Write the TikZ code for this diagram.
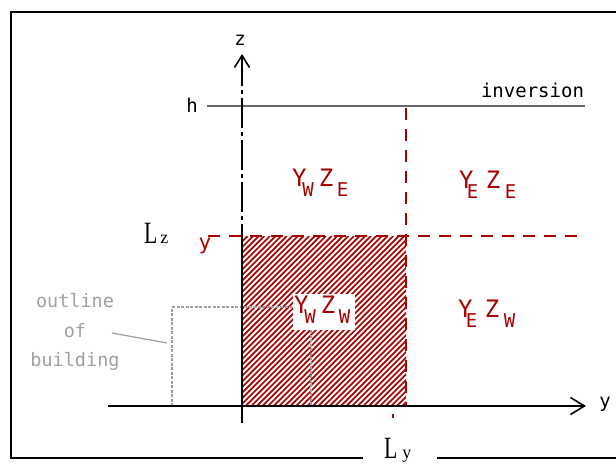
\documentclass[tikz,border=0pt]{standalone}
\usepackage{fontspec}
\setmainfont{Liberation Serif}
\newfontfamily\monof{DejaVu Sans Mono}
\usetikzlibrary{arrows.meta}
\definecolor{dred}{RGB}{168,0,0}
\definecolor{lgrey}{RGB}{160,160,160}
\definecolor{mgrey}{RGB}{105,105,105}
\newcommand\YZlab[5]{{\fontsize{24}{24}\selectfont Y}\kern#3\raisebox{-10pt}{\fontsize{19}{19}\selectfont #1}\kern#4{\fontsize{24}{24}\selectfont Z}\kern#5\raisebox{-10pt}{\fontsize{19}{19}\selectfont #2}}
\newcommand\bigL{\scalebox{0.7}[1]{\fontsize{31}{31}\selectfont L}}
\tikzset{
  frameline/.style={black, line width=1.6pt},
  axisline/.style={black, line width=1.6pt},
  reddash/.style={dred, line width=1.8pt, dash pattern=on 12pt off 9pt},
  hatchline/.style={dred, line width=1.7pt},
  bldg/.style={lgrey, line width=1.4pt, dash pattern=on 3pt off 1.5pt},
  regionlab/.style={inner sep=0pt, outer sep=0pt, anchor=base west, text=dred, font=\monof},
  monolab/.style={inner sep=0pt, outer sep=0pt, anchor=base, font=\monof\fontsize{19}{19}\selectfont},
  greylab/.style={monolab, text=lgrey, font=\monof\fontsize{18.5}{18.5}\selectfont},
  seriflab/.style={inner sep=0pt, outer sep=0pt, anchor=base west}
}
\begin{document}
\begin{tikzpicture}[x=1pt,y=-1pt]
\useasboundingbox (0,0) rectangle (616,464);
% frame
\coordinate (fTR) at (618,12);
\coordinate (fTL) at (11,12);
\coordinate (fBL) at (11,458);
\coordinate (gapL) at (363,458);
\coordinate (gapR) at (437,458);
\coordinate (fBR) at (618,458);
\draw[frameline] (fTR) -- (fTL) -- (fBL) -- (gapL);
\draw[frameline] (gapR) -- (fBR);
\node[seriflab] (Ly) at (384,458) {\bigL\kern5pt{\fontsize{18}{18}\selectfont y}};
\node[seriflab] (Lz) at (144,243) {\bigL\kern3pt{\fontsize{18}{18}\selectfont z}};
% inversion line
\coordinate (invL) at (207,106);
\coordinate (invR) at (585,106);
\draw[mgrey, line width=1.5pt] (invL) -- (invR);
\node[monolab, anchor=base east] (inv) at (584,97) {inversion};
\node[monolab] (h) at (192,112) {h};
% hatched region
\begin{scope}
\clip (242,236) rectangle (406,406);
\foreach \i in {0,...,62} {
  \pgfmathsetmacro\xs{72+5.6*\i}
  \draw[hatchline] (\xs,406) -- (\xs+170,236);
}
\end{scope}
% outline of building
\coordinate (b1) at (172,406);
\coordinate (b2) at (172,307);
\coordinate (b3) at (311,307);
\coordinate (b4) at (311,406);
\draw[bldg] (b1) -- (b2) -- (b3) -- (b4);
\coordinate (lead1) at (112,333);
\coordinate (lead2) at (167,343);
\draw[lgrey, line width=1.2pt] (lead1) -- (lead2);
\node[greylab] (t1) at (75,307) {outline};
\node[greylab] (t2) at (75,337) {of};
\node[greylab] (t3) at (75,366) {building};
% red dashed lines
\coordinate (rh1) at (208,236);
\coordinate (rh2) at (583,236);
\coordinate (rv1) at (406,108);
\coordinate (rv2) at (406,406);
\draw[reddash] (rh1) -- (rh2);
\draw[reddash] (rv1) -- (rv2);
\coordinate (rt1) at (393,414);
\coordinate (rt2) at (393,418);
\draw[dred, line width=1.5pt] (rt1) -- (rt2);
\node[monolab, text=dred, font=\monof\fontsize{21}{21}\selectfont] (yred) at (205,249) {y};
% axes
\coordinate (yL) at (108,406);
\coordinate (yR) at (586,406);
\draw[axisline, -{Straight Barb[length=14pt,width=17pt]}] (yL) -- (yR);
\node[monolab] (ylab) at (605,407) {y};
\coordinate (ztip) at (242,54);
\coordinate (zc) at (242,236);
\coordinate (zb) at (242,423);
\draw[axisline] (zb) -- (zc);
\draw[axisline, dash pattern=on 30pt off 4pt on 4pt off 4pt, {Straight Barb[length=12pt,width=15pt]}-] (ztip) -- (zc);
\node[monolab] (zlab) at (240,45) {z};
% labels
\fill[white] (293,294) rectangle (355,330);
\node[regionlab] (ywze) at (292,186) {\YZlab{W}{E}{-4pt}{5pt}{3.5pt}};
\node[regionlab] (yeze) at (459,188) {\YZlab{E}{E}{-6.5pt}{7.5pt}{4.5pt}};
\node[regionlab] (ywzw) at (294,313) {\YZlab{W}{W}{-4pt}{5pt}{3.5pt}};
\node[regionlab] (yezw) at (458,317) {\YZlab{E}{W}{-6.5pt}{7.5pt}{4.5pt}};
\end{tikzpicture}
\end{document}
